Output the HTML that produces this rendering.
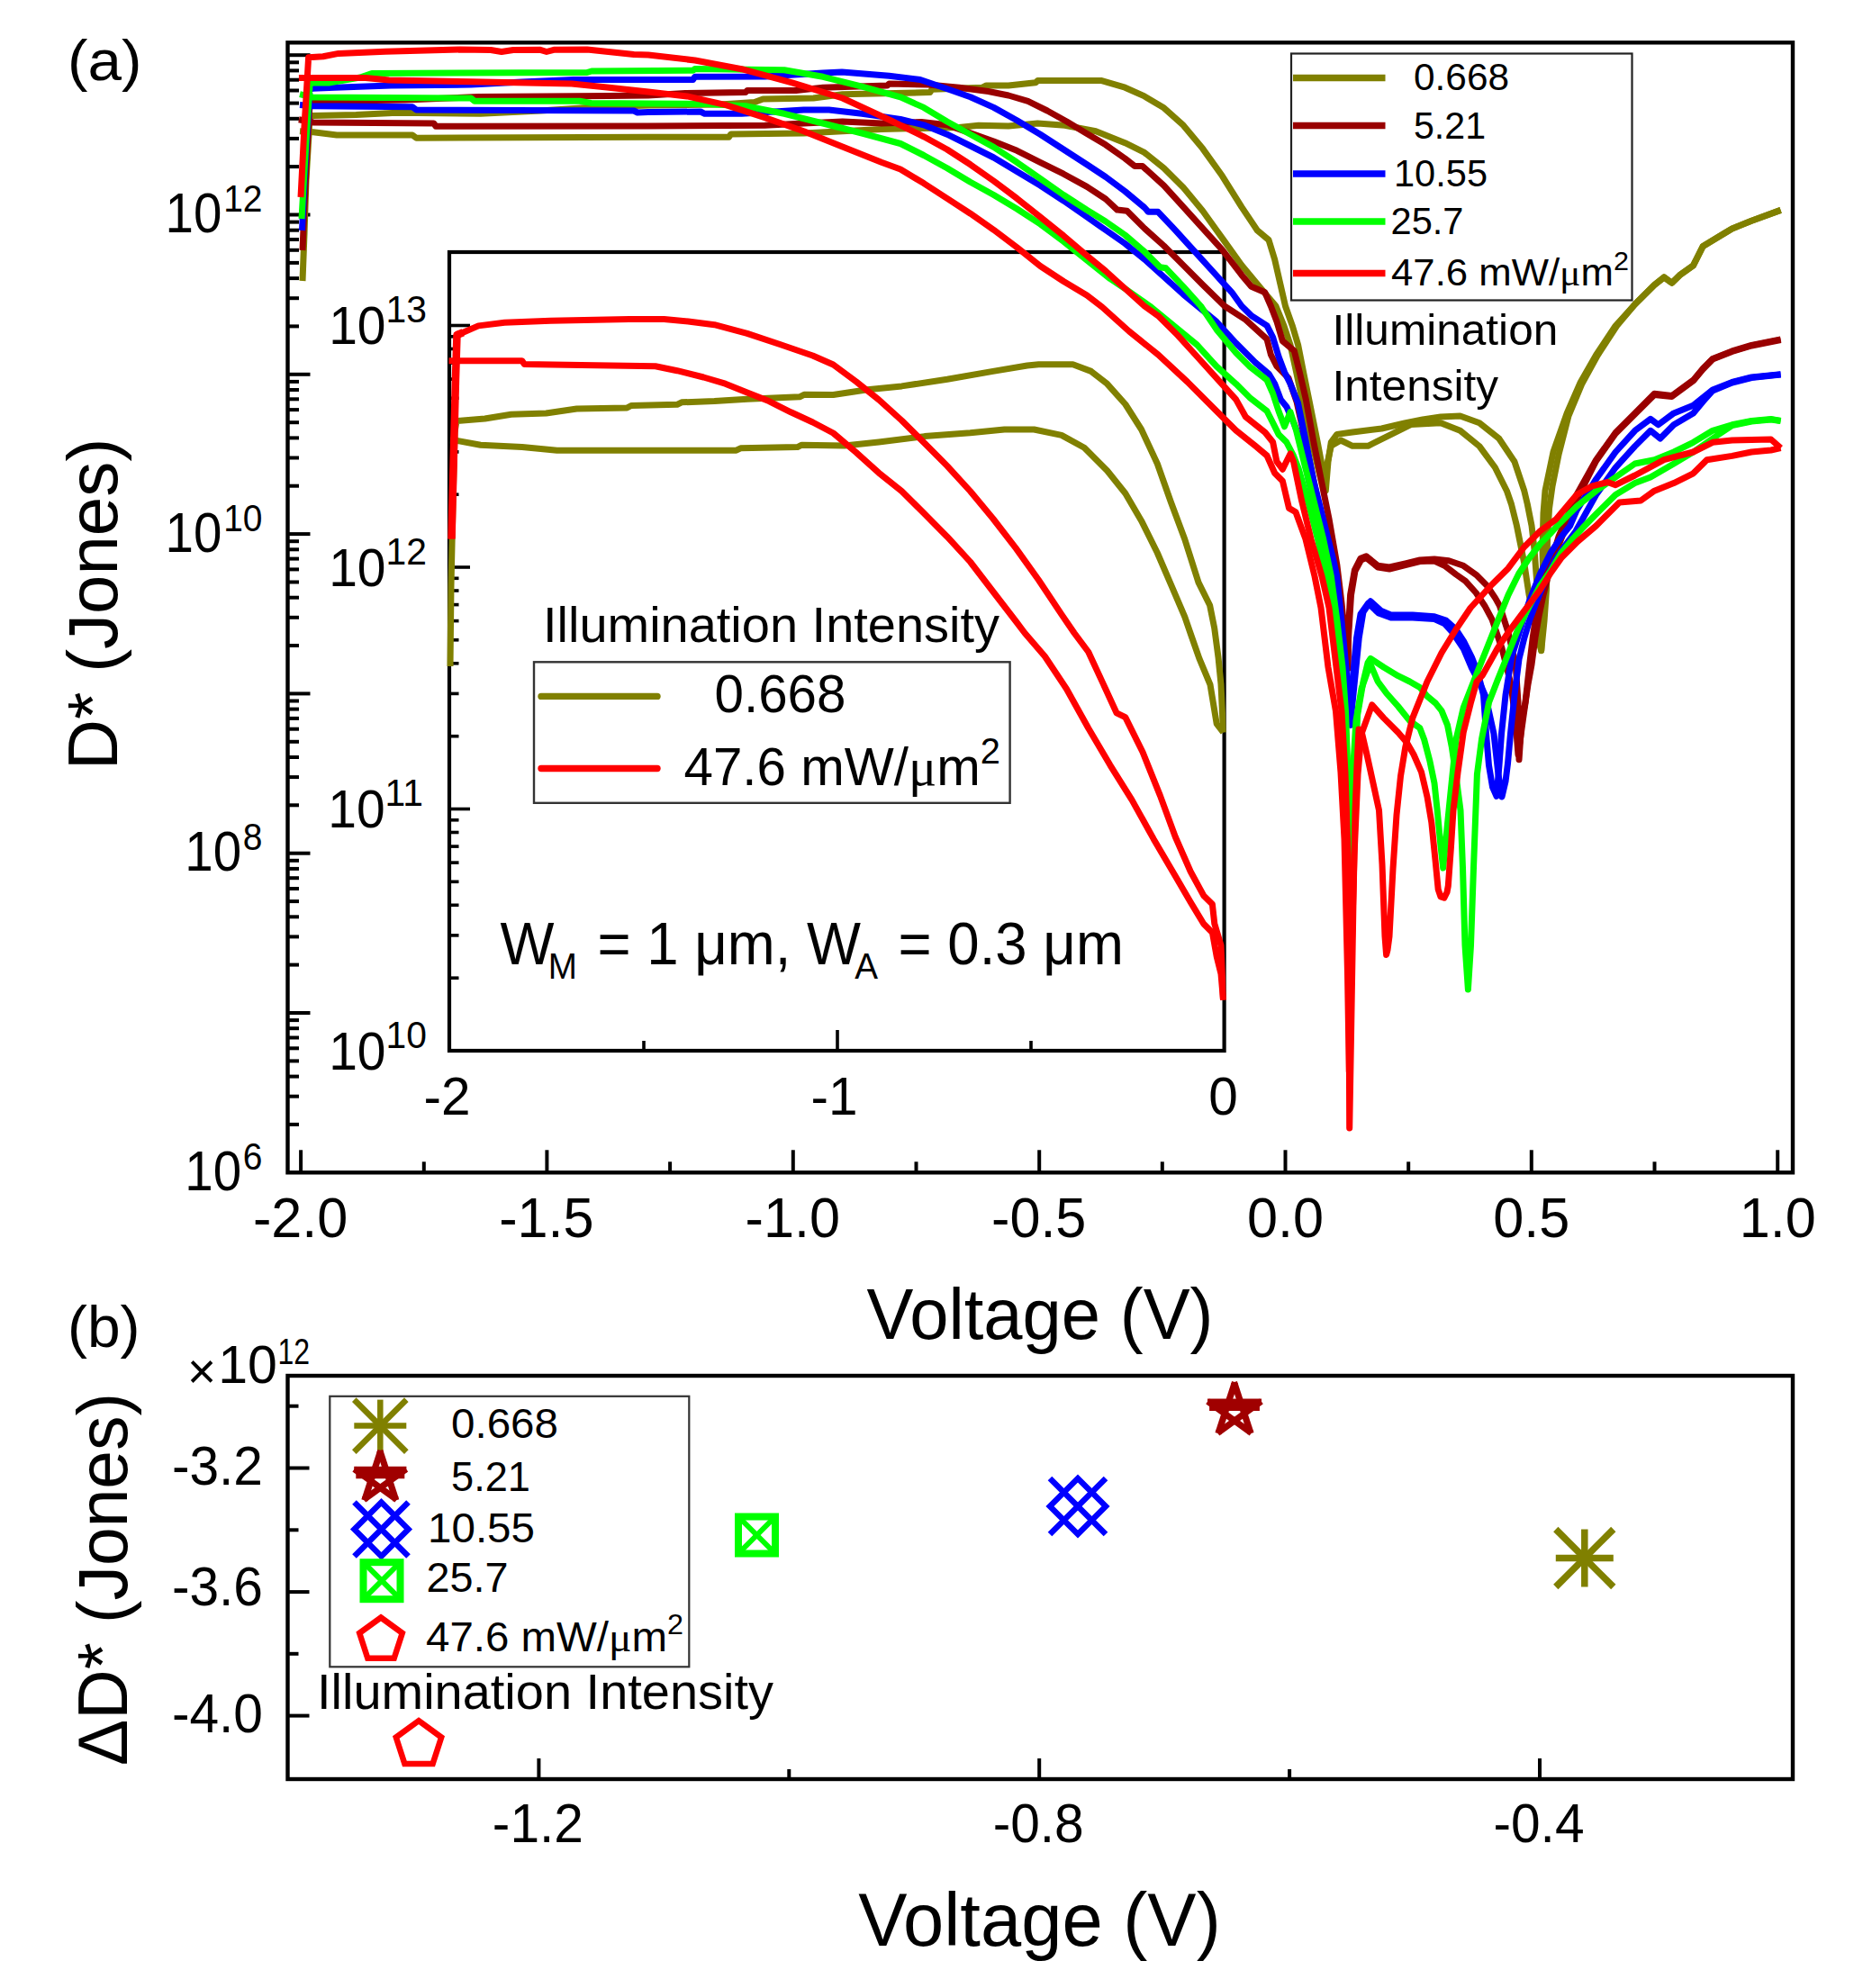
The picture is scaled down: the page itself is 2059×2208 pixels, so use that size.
<!DOCTYPE html>
<html><head><meta charset="utf-8"><title>Figure</title>
<style>html,body{margin:0;padding:0;background:#fff}svg{display:block}text{font-family:"Liberation Sans",sans-serif;fill:#000}</style>
</head><body>
<svg width="2059" height="2208" viewBox="0 0 2059 2208">
<rect width="2059" height="2208" fill="#fff"/>
<clipPath id="ci"><rect x="493" y="280" width="868.5999999999999" height="887"/></clipPath>
<rect x="499" y="280" width="860.5999999999999" height="887" fill="none" stroke="#000" stroke-width="4.2"/>
<line x1="499.0" y1="1086.2" x2="509.5" y2="1086.2" stroke="#000" stroke-width="3.6" />
<line x1="499.0" y1="1038.9" x2="509.5" y2="1038.9" stroke="#000" stroke-width="3.6" />
<line x1="499.0" y1="1005.3" x2="509.5" y2="1005.3" stroke="#000" stroke-width="3.6" />
<line x1="499.0" y1="979.3" x2="509.5" y2="979.3" stroke="#000" stroke-width="3.6" />
<line x1="499.0" y1="958.1" x2="509.5" y2="958.1" stroke="#000" stroke-width="3.6" />
<line x1="499.0" y1="940.1" x2="509.5" y2="940.1" stroke="#000" stroke-width="3.6" />
<line x1="499.0" y1="924.5" x2="509.5" y2="924.5" stroke="#000" stroke-width="3.6" />
<line x1="499.0" y1="910.8" x2="509.5" y2="910.8" stroke="#000" stroke-width="3.6" />
<line x1="499.0" y1="898.5" x2="522.0" y2="898.5" stroke="#000" stroke-width="3.6" />
<line x1="499.0" y1="817.7" x2="509.5" y2="817.7" stroke="#000" stroke-width="3.6" />
<line x1="499.0" y1="770.4" x2="509.5" y2="770.4" stroke="#000" stroke-width="3.6" />
<line x1="499.0" y1="736.8" x2="509.5" y2="736.8" stroke="#000" stroke-width="3.6" />
<line x1="499.0" y1="710.8" x2="509.5" y2="710.8" stroke="#000" stroke-width="3.6" />
<line x1="499.0" y1="689.6" x2="509.5" y2="689.6" stroke="#000" stroke-width="3.6" />
<line x1="499.0" y1="671.6" x2="509.5" y2="671.6" stroke="#000" stroke-width="3.6" />
<line x1="499.0" y1="656.0" x2="509.5" y2="656.0" stroke="#000" stroke-width="3.6" />
<line x1="499.0" y1="642.3" x2="509.5" y2="642.3" stroke="#000" stroke-width="3.6" />
<line x1="499.0" y1="630.0" x2="522.0" y2="630.0" stroke="#000" stroke-width="3.6" />
<line x1="499.0" y1="549.2" x2="509.5" y2="549.2" stroke="#000" stroke-width="3.6" />
<line x1="499.0" y1="501.9" x2="509.5" y2="501.9" stroke="#000" stroke-width="3.6" />
<line x1="499.0" y1="468.3" x2="509.5" y2="468.3" stroke="#000" stroke-width="3.6" />
<line x1="499.0" y1="442.3" x2="509.5" y2="442.3" stroke="#000" stroke-width="3.6" />
<line x1="499.0" y1="421.1" x2="509.5" y2="421.1" stroke="#000" stroke-width="3.6" />
<line x1="499.0" y1="403.1" x2="509.5" y2="403.1" stroke="#000" stroke-width="3.6" />
<line x1="499.0" y1="387.5" x2="509.5" y2="387.5" stroke="#000" stroke-width="3.6" />
<line x1="499.0" y1="373.8" x2="509.5" y2="373.8" stroke="#000" stroke-width="3.6" />
<line x1="499.0" y1="361.5" x2="522.0" y2="361.5" stroke="#000" stroke-width="3.6" />
<line x1="715.0" y1="1167.0" x2="715.0" y2="1156.0" stroke="#000" stroke-width="3.6" />
<line x1="930.0" y1="1167.0" x2="930.0" y2="1144.0" stroke="#000" stroke-width="3.6" />
<line x1="1145.0" y1="1167.0" x2="1145.0" y2="1156.0" stroke="#000" stroke-width="3.6" />
<g clip-path="url(#ci)">
<polyline points="500.0,740.0 501.0,650.0 503.0,560.0 505.0,480.0 507.0,467.5 538.5,465.0 567.7,460.2 606.5,459.0 640.5,454.0 696.3,453.0 701.0,450.5 752.0,449.3 757.0,446.8 793.4,445.6 829.8,443.2 888.0,440.8 893.0,438.3 925.4,438.5 963.4,432.7 1001.4,428.9 1052.0,421.3 1102.8,412.4 1140.8,406.0 1153.5,404.8 1191.5,404.8 1211.8,412.4 1229.6,426.3 1249.8,449.0 1267.6,477.0 1285.3,515.0 1300.5,558.0 1315.7,598.7 1331.0,646.9 1343.6,672.2 1348.7,697.6 1353.0,730.0 1356.0,760.0 1358.5,813.5" fill="none" stroke="#808000" stroke-width="7" stroke-linejoin="round" stroke-linecap="butt" />
<polyline points="500.0,489.0 507.0,489.3 533.7,494.2 579.8,496.6 618.6,500.2 817.7,500.2 822.5,497.8 885.6,496.6 890.5,494.2 938.0,495.0 976.0,491.0 1026.8,484.6 1077.5,480.8 1115.5,477.0 1148.4,477.0 1178.9,483.4 1204.2,497.3 1229.6,522.7 1249.8,548.0 1267.6,578.4 1285.3,614.0 1300.5,649.4 1315.7,684.9 1323.0,706.0 1331.9,731.4 1344.0,760.4 1351.2,803.9 1358.5,813.5" fill="none" stroke="#808000" stroke-width="7" stroke-linejoin="round" stroke-linecap="butt" />
<polyline points="501.5,598.5 504.0,500.0 506.0,420.0 507.5,372.0 514.3,369.2 531.3,361.9 560.4,358.3 611.4,356.3 698.7,354.6 737.6,354.6 764.3,357.0 793.4,360.7 829.8,370.4 866.2,382.5 902.6,395.0 925.4,405.0 950.7,423.8 976.0,444.0 1001.4,467.0 1026.8,492.2 1052.0,517.6 1077.5,545.5 1102.8,576.0 1128.2,608.9 1153.5,644.3 1178.9,682.4 1193.0,703.0 1208.7,724.0 1225.6,760.4 1240.0,791.8 1249.8,796.6 1269.0,835.3 1288.4,883.6 1305.3,929.5 1322.2,968.0 1336.7,994.7 1346.4,1004.3 1348.8,1026.0 1356.0,1050.0 1358.5,1110.6" fill="none" stroke="#ff0000" stroke-width="7" stroke-linejoin="round" stroke-linecap="butt" />
<polyline points="498.5,400.7 579.8,400.7 582.2,404.4 645.3,405.6 727.9,406.8 752.0,411.7 781.3,419.0 805.5,426.2 829.8,436.0 854.0,445.6 878.3,457.8 902.6,469.0 925.4,481.0 950.7,502.4 976.0,525.2 1001.4,545.5 1026.8,570.8 1052.0,596.2 1077.5,624.0 1102.8,657.0 1128.2,690.0 1138.0,703.0 1160.4,729.0 1184.5,765.2 1208.7,808.7 1232.9,849.8 1257.0,888.4 1281.2,931.9 1305.3,973.0 1322.2,1002.0 1336.7,1026.0 1346.4,1035.7 1351.2,1062.3 1356.0,1081.6 1358.5,1110.6" fill="none" stroke="#ff0000" stroke-width="7" stroke-linejoin="round" stroke-linecap="butt" />
<polyline points="501.5,598.5 504.0,500.0 506.0,420.0 507.5,372.0 514.3,369.2" fill="none" stroke="#ff0000" stroke-width="8.5" stroke-linejoin="round" stroke-linecap="butt" />
</g>
<text transform="translate(474.0,382.0) scale(0.95,1)" text-anchor="end" font-size="60">10<tspan font-size="43" dy="-24" dx="0">13</tspan></text>
<text transform="translate(474.0,650.5) scale(0.95,1)" text-anchor="end" font-size="60">10<tspan font-size="43" dy="-24" dx="0">12</tspan></text>
<text transform="translate(470.0,919.0) scale(0.95,1)" text-anchor="end" font-size="60">10<tspan font-size="43" dy="-24" dx="0">11</tspan></text>
<text transform="translate(474.0,1187.5) scale(0.95,1)" text-anchor="end" font-size="60">10<tspan font-size="43" dy="-24" dx="0">10</tspan></text>
<text transform="translate(496.5,1238.0) scale(1.0,1)" font-size="58.5" text-anchor="middle">-2</text>
<text transform="translate(926.5,1238.0) scale(1.0,1)" font-size="58.5" text-anchor="middle">-1</text>
<text transform="translate(1358.5,1238.0) scale(1.0,1)" font-size="58.5" text-anchor="middle">0</text>
<text transform="translate(555.5,1070.5) scale(0.966,1)" font-size="65.8">W<tspan font-size="40" dy="16" dx="-7">M</tspan><tspan dy="-16" dx="5"> = 1 μm, W</tspan><tspan font-size="40" dy="16" dx="-7">A</tspan><tspan dy="-16" dx="5"> = 0.3 μm</tspan></text>
<text x="603" y="713" font-size="55.6" textLength="507" lengthAdjust="spacingAndGlyphs">Illumination Intensity</text>
<rect x="593" y="735.3" width="528.6" height="156.5" fill="none" stroke="#333" stroke-width="2.4"/>
<line x1="601" y1="773.4" x2="730" y2="773.4" stroke="#808000" stroke-width="7.4" stroke-linecap="round"/>
<line x1="601" y1="853.5" x2="730" y2="853.5" stroke="#ff0000" stroke-width="7.4" stroke-linecap="round"/>
<text transform="translate(793.5,791.0) scale(0.972,1)" font-size="60" text-anchor="start">0.668</text>
<text transform="translate(759.5,872.4) scale(0.972,1)" font-size="60" text-anchor="start">47.6 mW/<tspan font-family="'Liberation Serif',serif">μ</tspan>m<tspan font-size="41" dy="-24">2</tspan></text>
<line x1="319.5" y1="1248.9" x2="332.0" y2="1248.9" stroke="#000" stroke-width="4.0" />
<line x1="319.5" y1="1217.7" x2="332.0" y2="1217.7" stroke="#000" stroke-width="4.0" />
<line x1="319.5" y1="1195.6" x2="332.0" y2="1195.6" stroke="#000" stroke-width="4.0" />
<line x1="319.5" y1="1178.4" x2="332.0" y2="1178.4" stroke="#000" stroke-width="4.0" />
<line x1="319.5" y1="1164.3" x2="332.0" y2="1164.3" stroke="#000" stroke-width="4.0" />
<line x1="319.5" y1="1152.5" x2="332.0" y2="1152.5" stroke="#000" stroke-width="4.0" />
<line x1="319.5" y1="1142.2" x2="332.0" y2="1142.2" stroke="#000" stroke-width="4.0" />
<line x1="319.5" y1="1133.1" x2="332.0" y2="1133.1" stroke="#000" stroke-width="4.0" />
<line x1="319.5" y1="1125.0" x2="344.5" y2="1125.0" stroke="#000" stroke-width="4.0" />
<line x1="319.5" y1="1071.6" x2="332.0" y2="1071.6" stroke="#000" stroke-width="4.0" />
<line x1="319.5" y1="1040.4" x2="332.0" y2="1040.4" stroke="#000" stroke-width="4.0" />
<line x1="319.5" y1="1018.3" x2="332.0" y2="1018.3" stroke="#000" stroke-width="4.0" />
<line x1="319.5" y1="1001.1" x2="332.0" y2="1001.1" stroke="#000" stroke-width="4.0" />
<line x1="319.5" y1="987.0" x2="332.0" y2="987.0" stroke="#000" stroke-width="4.0" />
<line x1="319.5" y1="975.2" x2="332.0" y2="975.2" stroke="#000" stroke-width="4.0" />
<line x1="319.5" y1="964.9" x2="332.0" y2="964.9" stroke="#000" stroke-width="4.0" />
<line x1="319.5" y1="955.8" x2="332.0" y2="955.8" stroke="#000" stroke-width="4.0" />
<line x1="319.5" y1="947.7" x2="344.5" y2="947.7" stroke="#000" stroke-width="4.0" />
<line x1="319.5" y1="894.3" x2="332.0" y2="894.3" stroke="#000" stroke-width="4.0" />
<line x1="319.5" y1="863.1" x2="332.0" y2="863.1" stroke="#000" stroke-width="4.0" />
<line x1="319.5" y1="841.0" x2="332.0" y2="841.0" stroke="#000" stroke-width="4.0" />
<line x1="319.5" y1="823.8" x2="332.0" y2="823.8" stroke="#000" stroke-width="4.0" />
<line x1="319.5" y1="809.7" x2="332.0" y2="809.7" stroke="#000" stroke-width="4.0" />
<line x1="319.5" y1="797.9" x2="332.0" y2="797.9" stroke="#000" stroke-width="4.0" />
<line x1="319.5" y1="787.6" x2="332.0" y2="787.6" stroke="#000" stroke-width="4.0" />
<line x1="319.5" y1="778.5" x2="332.0" y2="778.5" stroke="#000" stroke-width="4.0" />
<line x1="319.5" y1="770.4" x2="344.5" y2="770.4" stroke="#000" stroke-width="4.0" />
<line x1="319.5" y1="717.0" x2="332.0" y2="717.0" stroke="#000" stroke-width="4.0" />
<line x1="319.5" y1="685.8" x2="332.0" y2="685.8" stroke="#000" stroke-width="4.0" />
<line x1="319.5" y1="663.7" x2="332.0" y2="663.7" stroke="#000" stroke-width="4.0" />
<line x1="319.5" y1="646.5" x2="332.0" y2="646.5" stroke="#000" stroke-width="4.0" />
<line x1="319.5" y1="632.4" x2="332.0" y2="632.4" stroke="#000" stroke-width="4.0" />
<line x1="319.5" y1="620.6" x2="332.0" y2="620.6" stroke="#000" stroke-width="4.0" />
<line x1="319.5" y1="610.3" x2="332.0" y2="610.3" stroke="#000" stroke-width="4.0" />
<line x1="319.5" y1="601.2" x2="332.0" y2="601.2" stroke="#000" stroke-width="4.0" />
<line x1="319.5" y1="593.1" x2="344.5" y2="593.1" stroke="#000" stroke-width="4.0" />
<line x1="319.5" y1="539.7" x2="332.0" y2="539.7" stroke="#000" stroke-width="4.0" />
<line x1="319.5" y1="508.5" x2="332.0" y2="508.5" stroke="#000" stroke-width="4.0" />
<line x1="319.5" y1="486.4" x2="332.0" y2="486.4" stroke="#000" stroke-width="4.0" />
<line x1="319.5" y1="469.2" x2="332.0" y2="469.2" stroke="#000" stroke-width="4.0" />
<line x1="319.5" y1="455.1" x2="332.0" y2="455.1" stroke="#000" stroke-width="4.0" />
<line x1="319.5" y1="443.3" x2="332.0" y2="443.3" stroke="#000" stroke-width="4.0" />
<line x1="319.5" y1="433.0" x2="332.0" y2="433.0" stroke="#000" stroke-width="4.0" />
<line x1="319.5" y1="423.9" x2="332.0" y2="423.9" stroke="#000" stroke-width="4.0" />
<line x1="319.5" y1="415.8" x2="344.5" y2="415.8" stroke="#000" stroke-width="4.0" />
<line x1="319.5" y1="362.4" x2="332.0" y2="362.4" stroke="#000" stroke-width="4.0" />
<line x1="319.5" y1="331.2" x2="332.0" y2="331.2" stroke="#000" stroke-width="4.0" />
<line x1="319.5" y1="309.1" x2="332.0" y2="309.1" stroke="#000" stroke-width="4.0" />
<line x1="319.5" y1="291.9" x2="332.0" y2="291.9" stroke="#000" stroke-width="4.0" />
<line x1="319.5" y1="277.8" x2="332.0" y2="277.8" stroke="#000" stroke-width="4.0" />
<line x1="319.5" y1="266.0" x2="332.0" y2="266.0" stroke="#000" stroke-width="4.0" />
<line x1="319.5" y1="255.7" x2="332.0" y2="255.7" stroke="#000" stroke-width="4.0" />
<line x1="319.5" y1="246.6" x2="332.0" y2="246.6" stroke="#000" stroke-width="4.0" />
<line x1="319.5" y1="238.5" x2="344.5" y2="238.5" stroke="#000" stroke-width="4.0" />
<line x1="319.5" y1="185.1" x2="332.0" y2="185.1" stroke="#000" stroke-width="4.0" />
<line x1="319.5" y1="153.9" x2="332.0" y2="153.9" stroke="#000" stroke-width="4.0" />
<line x1="319.5" y1="131.8" x2="332.0" y2="131.8" stroke="#000" stroke-width="4.0" />
<line x1="319.5" y1="114.6" x2="332.0" y2="114.6" stroke="#000" stroke-width="4.0" />
<line x1="319.5" y1="100.5" x2="332.0" y2="100.5" stroke="#000" stroke-width="4.0" />
<line x1="319.5" y1="88.7" x2="332.0" y2="88.7" stroke="#000" stroke-width="4.0" />
<line x1="319.5" y1="78.4" x2="332.0" y2="78.4" stroke="#000" stroke-width="4.0" />
<line x1="319.5" y1="69.3" x2="332.0" y2="69.3" stroke="#000" stroke-width="4.0" />
<line x1="319.5" y1="61.2" x2="344.5" y2="61.2" stroke="#000" stroke-width="4.0" />
<line x1="334.1" y1="1302.3" x2="334.1" y2="1277.3" stroke="#000" stroke-width="4.0" />
<line x1="470.8" y1="1302.3" x2="470.8" y2="1290.3" stroke="#000" stroke-width="4.0" />
<line x1="607.4" y1="1302.3" x2="607.4" y2="1277.3" stroke="#000" stroke-width="4.0" />
<line x1="744.1" y1="1302.3" x2="744.1" y2="1290.3" stroke="#000" stroke-width="4.0" />
<line x1="880.8" y1="1302.3" x2="880.8" y2="1277.3" stroke="#000" stroke-width="4.0" />
<line x1="1017.5" y1="1302.3" x2="1017.5" y2="1290.3" stroke="#000" stroke-width="4.0" />
<line x1="1154.2" y1="1302.3" x2="1154.2" y2="1277.3" stroke="#000" stroke-width="4.0" />
<line x1="1290.8" y1="1302.3" x2="1290.8" y2="1290.3" stroke="#000" stroke-width="4.0" />
<line x1="1427.5" y1="1302.3" x2="1427.5" y2="1277.3" stroke="#000" stroke-width="4.0" />
<line x1="1564.2" y1="1302.3" x2="1564.2" y2="1290.3" stroke="#000" stroke-width="4.0" />
<line x1="1700.8" y1="1302.3" x2="1700.8" y2="1277.3" stroke="#000" stroke-width="4.0" />
<line x1="1837.5" y1="1302.3" x2="1837.5" y2="1290.3" stroke="#000" stroke-width="4.0" />
<line x1="1974.2" y1="1302.3" x2="1974.2" y2="1277.3" stroke="#000" stroke-width="4.0" />
<clipPath id="ca"><rect x="319.5" y="47.3" width="1671.5" height="1255.0"/></clipPath>
<g clip-path="url(#ca)">
<polyline points="336.0,312.0 338.0,260.0 340.0,200.0 343.0,150.0 344.0,129.0 348.0,128.5 395.5,127.4 440.8,125.2 533.6,126.3 600.0,123.0 660.0,119.0 720.0,117.0 800.0,116.0 838.0,113.5 847.3,110.0 903.4,109.0 935.7,104.7 1032.8,102.6 1035.0,99.3 1091.0,97.2 1095.4,95.0 1120.0,95.0 1150.0,91.8 1152.4,89.6 1223.6,89.6 1249.4,97.2 1271.0,106.9 1292.6,119.8 1314.2,139.2 1335.7,165.1 1357.3,195.3 1378.9,229.9 1396.2,255.7 1409.0,266.5 1415.6,288.0 1422.0,316.0 1427.5,340.0 1435.2,361.6 1441.6,383.0 1448.0,415.5 1454.6,447.9 1463.2,491.0 1469.7,525.5 1472.3,545.0 1475.0,512.6 1478.3,491.0 1484.8,482.4 1502.0,480.0 1534.4,476.0 1560.0,470.0 1580.0,466.0 1600.0,463.0 1621.6,462.0 1643.0,469.7 1664.7,487.0 1682.0,512.8 1692.8,545.2 1696.3,560.0 1701.0,583.7 1704.0,610.0 1707.0,650.0 1709.0,690.0 1711.7,722.6 1715.0,690.0 1717.5,655.0 1718.0,631.0 1718.5,600.0 1720.5,565.0 1724.0,540.0 1731.0,505.0 1742.0,462.0 1757.0,426.0 1774.0,395.0 1795.5,362.0 1815.7,338.0 1837.3,316.5 1848.0,307.9 1856.7,314.3 1865.4,305.7 1880.5,294.9 1891.3,273.4 1902.0,266.9 1923.6,253.9 1945.2,245.3 1977.6,233.4" fill="none" stroke="#808000" stroke-width="7" stroke-linejoin="round" stroke-linecap="butt" />
<polyline points="333.0,145.7 348.0,146.8 374.0,150.0 458.0,150.0 462.4,153.3 720.0,152.2 809.5,152.2 811.7,149.0 892.6,147.9 935.7,145.7 978.9,143.6 1065.2,141.4 1086.8,139.2 1120.0,140.0 1152.4,137.0 1182.6,139.2 1217.0,145.7 1249.4,158.7 1271.0,169.4 1292.6,186.7 1314.2,208.3 1335.7,234.2 1357.3,264.4 1378.9,294.6 1400.5,320.5 1417.0,340.0 1426.0,362.0 1433.0,383.0 1440.0,415.0 1447.0,448.0 1457.0,491.0 1465.0,525.0 1470.5,545.0 1474.0,515.0 1478.3,495.3 1489.0,489.0 1502.0,495.3 1519.3,495.3 1545.2,482.4 1566.8,471.6 1600.0,469.7 1621.6,478.3 1643.0,495.6 1660.4,519.3 1673.4,545.2 1678.5,560.0 1684.4,583.7 1689.2,607.5 1692.7,625.3 1698.0,660.0 1704.0,690.0 1708.0,710.0 1711.7,722.6 1713.0,690.0 1714.0,650.0 1713.0,610.0 1714.0,570.0 1716.0,545.0 1725.0,502.0 1740.2,458.9 1755.3,424.4 1772.6,394.2 1794.2,361.8 1815.7,338.0 1837.3,316.5 1848.0,307.9 1856.7,314.3 1865.4,305.7 1880.5,294.9 1891.3,273.4 1902.0,266.9 1923.6,253.9 1945.2,245.3 1977.6,233.4" fill="none" stroke="#808000" stroke-width="7" stroke-linejoin="round" stroke-linecap="butt" />
<polyline points="336.0,278.0 338.0,230.0 341.0,170.0 344.0,115.0 348.0,113.0 367.5,112.3 450.0,111.0 531.4,107.5 676.0,106.5 720.0,106.0 761.0,103.6 827.9,102.6 830.0,100.4 884.0,100.4 914.0,97.2 985.4,95.0 987.5,92.9 1030.7,94.0 1065.2,97.2 1097.6,101.5 1120.0,106.0 1141.6,112.3 1163.1,123.0 1184.7,135.0 1206.3,147.9 1227.9,160.8 1249.4,176.0 1260.2,184.6 1268.9,184.6 1292.6,206.1 1314.2,229.9 1335.7,253.6 1357.3,277.3 1378.9,305.4 1389.7,318.3 1404.8,324.8 1411.4,340.0 1418.0,357.3 1424.4,378.8 1437.3,389.6 1443.8,415.5 1450.3,443.6 1458.9,491.0 1467.5,534.2 1476.2,577.3 1484.8,627.0 1490.0,670.0 1494.0,710.0 1497.2,742.6 1497.5,700.0 1499.6,660.5 1504.4,633.0 1510.9,620.3 1517.3,617.8 1530.2,628.3 1543.0,630.0 1560.8,625.9 1576.9,621.9 1593.0,621.0 1609.0,622.7 1625.2,628.3 1639.3,638.3 1651.2,650.2 1660.7,664.4 1665.4,672.7 1675.0,702.4 1683.2,738.0 1686.0,780.0 1687.0,843.8 1690.0,800.0 1694.0,780.0 1698.7,738.0 1702.2,708.3 1705.8,684.6 1710.5,660.9 1716.5,637.0 1722.4,619.3 1728.3,605.0 1731.0,596.0 1751.0,549.5 1772.6,510.7 1794.2,480.5 1815.7,458.9 1837.3,437.3 1856.7,439.5 1880.5,422.2 1891.3,409.3 1902.0,398.5 1923.6,389.9 1945.2,383.4 1977.6,376.9" fill="none" stroke="#990000" stroke-width="7" stroke-linejoin="round" stroke-linecap="butt" />
<polyline points="331.9,132.8 348.0,136.0 481.8,137.0 484.0,140.3 720.0,140.0 849.4,139.2 892.6,137.0 935.7,135.0 978.9,137.0 1023.3,135.5 1051.8,138.8 1077.7,147.9 1103.6,157.0 1129.4,167.3 1155.3,180.3 1181.2,193.2 1207.1,207.4 1227.9,221.0 1240.8,233.1 1251.6,234.2 1271.0,253.6 1292.6,273.0 1314.2,294.6 1335.7,316.2 1360.0,340.0 1383.4,355.1 1407.0,376.7 1411.4,394.0 1418.0,406.9 1431.0,420.0 1440.0,446.0 1450.0,491.0 1459.0,534.0 1468.0,577.0 1477.0,627.0 1485.0,680.0 1492.0,720.0 1496.0,740.0 1498.0,700.0 1500.5,661.0 1505.0,634.0 1511.5,622.0 1517.3,619.5 1530.2,630.0 1543.0,632.0 1560.8,627.5 1576.9,623.5 1593.0,623.0 1604.3,628.3 1617.0,638.0 1627.5,645.4 1639.3,658.5 1648.8,672.7 1657.1,688.2 1668.0,720.0 1678.0,760.0 1683.0,800.0 1686.0,838.0 1692.0,795.0 1697.0,760.0 1701.0,738.0 1705.0,708.0 1709.0,684.6 1714.0,660.9 1720.0,637.0 1726.0,619.3 1732.0,603.0 1753.0,551.0 1772.6,512.0 1794.2,481.5 1815.7,460.0 1837.3,438.5 1856.7,440.5 1880.5,423.0 1891.3,410.0 1902.0,399.0 1923.6,390.5 1945.2,384.0 1977.6,377.5" fill="none" stroke="#990000" stroke-width="7" stroke-linejoin="round" stroke-linecap="butt" />
<polyline points="335.5,256.0 338.0,200.0 341.0,150.0 344.0,100.0 347.0,98.3 371.8,97.2 434.0,95.0 523.0,94.0 580.0,91.0 637.0,88.5 720.0,88.5 769.6,88.5 771.8,85.3 850.0,85.0 914.0,81.0 935.0,80.0 987.5,84.2 1022.0,88.5 1055.7,100.0 1077.7,107.8 1103.6,119.4 1129.4,133.7 1155.3,149.2 1181.2,166.0 1207.1,182.8 1227.9,196.5 1249.4,212.5 1271.0,230.5 1275.3,235.3 1286.1,235.3 1303.4,253.6 1325.0,277.3 1346.5,301.0 1368.1,324.8 1379.0,340.0 1389.9,350.8 1407.0,361.6 1413.6,374.5 1420.0,396.0 1426.5,413.3 1433.0,426.3 1441.6,447.9 1450.3,491.0 1458.9,534.2 1469.7,577.3 1480.5,620.5 1484.8,640.0 1490.0,690.0 1495.0,741.0 1498.0,780.0 1499.6,805.4 1504.4,757.0 1509.2,708.8 1514.0,679.8 1522.1,667.8 1533.4,678.2 1544.7,683.0 1568.8,683.0 1593.0,684.7 1605.9,689.0 1616.5,698.5 1626.0,713.0 1634.5,730.0 1641.5,748.0 1647.5,772.0 1650.5,815.0 1653.5,850.0 1657.5,874.0 1662.0,884.4 1665.0,850.0 1667.5,815.0 1672.0,772.0 1679.0,729.0 1686.8,704.0 1692.7,684.6 1698.7,666.8 1710.5,637.0 1722.4,613.4 1734.3,595.6 1743.8,583.7 1751.0,566.8 1772.6,532.2 1794.2,502.0 1815.7,478.3 1833.0,465.4 1841.6,471.8 1858.9,458.9 1880.5,450.3 1902.0,433.0 1923.6,424.4 1945.2,419.0 1977.6,415.7" fill="none" stroke="#0000ff" stroke-width="7" stroke-linejoin="round" stroke-linecap="butt" />
<polyline points="333.0,116.6 347.0,117.7 458.0,118.7 462.4,122.0 704.0,123.0 708.0,125.0 720.0,124.5 778.0,124.0 782.6,126.3 823.6,126.3 860.0,124.0 892.6,122.0 920.6,122.0 957.3,126.3 1000.0,132.4 1025.9,138.8 1051.8,149.2 1077.7,162.0 1103.6,175.0 1129.4,190.6 1155.3,206.0 1181.2,223.0 1207.1,241.0 1227.9,255.5 1249.4,270.5 1271.0,288.0 1292.6,307.5 1314.2,327.0 1330.0,340.0 1351.0,357.3 1372.6,381.0 1394.2,402.6 1409.3,415.5 1415.7,426.3 1422.2,443.6 1429.0,452.0 1437.0,470.0 1445.0,491.0 1453.5,534.2 1464.0,577.3 1475.0,620.5 1480.0,640.0 1486.5,690.0 1492.0,741.0 1496.0,780.0 1497.5,798.0 1502.0,757.0 1506.5,708.8 1511.0,682.0 1519.5,670.0 1531.0,681.0 1544.7,686.0 1568.8,686.0 1593.0,687.5 1604.0,692.5 1613.6,703.0 1625.5,720.8 1634.0,741.0 1644.0,760.0 1650.0,774.0 1659.0,815.0 1664.0,860.0 1668.0,885.0 1672.0,868.0 1674.5,848.0 1677.5,815.0 1682.0,772.0 1687.0,732.0 1693.0,708.0 1699.0,688.0 1705.0,672.0 1716.0,645.0 1727.0,622.0 1738.0,606.0 1750.0,590.0 1772.6,549.5 1794.2,519.3 1815.7,495.6 1833.0,478.3 1843.8,487.0 1858.9,471.8 1880.5,458.9 1891.3,446.0 1902.0,434.0 1923.6,425.0 1945.2,419.5 1977.6,416.0" fill="none" stroke="#0000ff" stroke-width="7" stroke-linejoin="round" stroke-linecap="butt" />
<polyline points="335.0,243.0 338.0,190.0 341.0,140.0 344.0,95.0 346.0,92.0 365.0,92.0 400.0,86.0 413.0,81.5 510.0,81.0 652.0,80.5 657.0,79.0 769.6,78.3 771.8,76.5 871.0,77.8 914.0,85.3 957.3,96.1 1000.0,107.8 1025.9,119.4 1051.8,135.0 1077.7,149.2 1103.6,163.4 1129.4,180.3 1155.3,198.4 1181.2,216.5 1207.1,233.3 1227.9,246.0 1249.4,261.0 1271.0,279.5 1288.3,296.7 1294.8,297.8 1314.2,318.3 1333.6,340.0 1351.0,365.9 1372.6,391.8 1387.7,406.9 1407.0,422.0 1413.6,437.0 1420.0,456.5 1426.5,473.8 1433.0,457.6 1439.5,478.0 1448.0,512.6 1458.9,555.7 1469.7,598.9 1478.3,640.0 1485.0,690.0 1491.0,741.0 1494.5,790.0 1497.0,858.0 1498.5,932.0 1499.8,1012.8 1503.0,900.0 1507.6,794.2 1514.0,757.0 1519.0,736.2 1522.1,731.4 1536.6,741.0 1552.7,750.7 1565.6,757.0 1576.9,763.6 1585.0,773.2 1594.6,781.3 1601.0,789.4 1607.5,805.4 1612.3,829.6 1617.0,861.8 1622.0,900.0 1624.5,964.0 1627.0,1050.0 1630.4,1099.0 1633.5,1050.0 1636.5,964.0 1640.4,860.0 1645.6,820.5 1653.6,780.0 1663.0,755.8 1675.0,726.0 1686.8,696.5 1698.7,672.7 1710.5,650.2 1722.4,633.6 1734.3,613.4 1746.1,599.2 1758.0,586.0 1772.6,571.0 1794.2,549.5 1815.7,536.6 1833.0,530.0 1858.9,515.0 1880.5,502.0 1902.0,487.0 1923.6,472.5 1945.2,468.0 1966.8,466.0 1977.6,467.5" fill="none" stroke="#00ff00" stroke-width="7" stroke-linejoin="round" stroke-linecap="butt" />
<polyline points="333.0,104.7 347.0,108.0 523.0,109.0 527.0,112.3 643.6,112.3 656.6,114.4 720.0,115.0 784.7,115.5 827.9,117.7 871.0,126.3 914.0,137.0 957.3,148.0 1000.0,159.5 1025.9,172.5 1051.8,186.7 1077.7,202.3 1103.6,216.5 1129.4,232.0 1155.3,248.9 1181.2,268.3 1207.1,289.0 1233.0,309.7 1249.4,320.5 1277.0,340.0 1329.4,383.0 1351.0,406.9 1372.6,426.3 1387.7,441.4 1407.0,456.5 1413.6,469.5 1420.0,482.4 1428.7,491.0 1436.0,505.0 1442.0,520.0 1452.9,558.0 1463.7,600.0 1472.3,640.0 1480.0,690.0 1488.0,741.0 1492.0,790.0 1495.0,858.0 1497.0,960.0 1501.0,880.0 1506.0,800.0 1512.0,765.0 1519.0,745.0 1522.1,738.0 1530.2,757.0 1539.8,770.0 1552.7,784.5 1565.6,800.6 1576.9,808.7 1581.7,821.5 1588.0,845.7 1593.0,869.9 1596.2,900.0 1600.0,940.0 1602.7,964.0 1606.0,930.0 1610.0,890.0 1617.0,821.5 1625.2,786.0 1639.3,749.9 1651.2,720.2 1663.0,690.5 1675.0,660.9 1686.8,637.0 1698.7,619.3 1710.5,604.0 1722.4,592.0 1729.4,584.0 1751.0,562.5 1772.6,545.2 1794.2,530.0 1815.7,515.0 1837.3,510.7 1858.9,502.0 1880.5,491.3 1902.0,478.3 1923.6,471.8 1945.2,467.5 1966.8,465.4 1977.6,467.5" fill="none" stroke="#00ff00" stroke-width="7" stroke-linejoin="round" stroke-linecap="butt" />
<polyline points="334.0,219.0 336.0,180.0 338.0,140.0 340.5,100.0 342.6,63.7 358.8,62.7 376.0,59.4 427.9,57.3 509.9,55.1 545.0,55.5 557.0,57.5 570.0,55.5 600.0,55.3 607.0,57.5 615.0,55.3 652.0,55.1 704.0,60.5 720.0,61.0 771.8,67.0 823.6,76.7 879.7,91.8 935.7,109.0 987.5,133.0 1025.9,151.8 1051.8,166.0 1077.7,182.8 1103.6,201.0 1129.4,220.4 1155.3,241.1 1181.2,261.8 1207.1,283.8 1227.9,301.0 1249.4,320.5 1271.0,340.0 1286.3,350.8 1307.9,372.4 1329.4,396.0 1351.0,419.8 1372.6,443.6 1383.4,463.0 1405.0,480.2 1413.6,491.0 1417.9,512.6 1424.4,521.2 1433.0,504.0 1436.5,512.6 1445.5,555.7 1456.0,598.9 1468.0,640.0 1476.0,675.0 1484.0,741.0 1490.0,790.0 1494.0,858.0 1496.5,932.0 1498.0,1081.0 1498.7,1253.0 1500.5,1150.0 1503.0,1000.0 1505.0,900.0 1507.0,850.0 1509.0,810.0 1512.0,812.0 1518.0,838.0 1525.0,870.0 1531.5,900.0 1535.0,960.0 1538.0,1040.0 1539.6,1060.4 1541.0,1055.0 1543.0,1040.0 1547.0,965.0 1551.0,905.0 1555.5,862.0 1560.8,829.6 1568.8,797.4 1585.0,757.0 1601.0,725.0 1617.0,699.0 1633.2,675.0 1657.1,649.0 1675.0,631.2 1692.7,607.5 1710.5,589.7 1728.3,576.6 1751.0,549.5 1768.3,539.8 1785.5,535.5 1794.2,538.7 1815.7,528.0 1848.0,510.7 1880.5,502.0 1902.0,491.3 1923.6,489.0 1966.8,488.0 1977.6,497.7" fill="none" stroke="#ff0000" stroke-width="7" stroke-linejoin="round" stroke-linecap="butt" />
<polyline points="331.9,86.4 406.0,86.4 432.0,89.0 523.0,90.7 635.0,92.9 674.0,97.0 720.0,102.0 763.0,106.9 806.3,116.6 849.4,130.6 892.6,145.7 935.7,163.0 978.9,180.2 1000.0,188.0 1025.9,203.6 1051.8,220.4 1077.7,237.2 1103.6,255.3 1129.4,274.8 1155.3,295.5 1181.2,312.5 1207.1,328.0 1224.0,341.0 1254.0,368.0 1286.3,394.0 1318.7,424.1 1351.0,456.5 1372.6,478.0 1394.2,495.3 1407.0,506.0 1415.7,525.5 1424.4,534.2 1431.5,564.4 1439.0,568.7 1450.0,598.9 1460.0,640.0 1467.0,675.0 1475.0,741.0 1483.5,790.0 1489.0,858.0 1493.0,932.0 1496.5,1081.0 1498.3,1190.0 1500.0,1100.0 1504.0,950.0 1508.0,860.0 1512.0,815.0 1523.7,782.9 1536.6,797.4 1552.7,813.5 1562.4,824.8 1570.0,838.0 1578.6,857.7 1585.0,885.0 1589.8,913.5 1594.0,955.0 1597.2,987.9 1600.0,996.0 1603.8,997.3 1607.0,991.0 1608.3,984.0 1611.5,940.0 1614.0,900.0 1619.0,858.0 1625.2,813.5 1633.2,781.3 1640.0,757.0 1646.5,749.9 1663.0,720.2 1675.0,702.4 1692.7,678.7 1710.5,655.0 1722.4,636.0 1734.3,619.3 1752.0,601.5 1772.6,584.0 1798.5,558.0 1822.2,556.0 1837.3,545.2 1858.9,536.6 1880.5,525.8 1895.6,510.7 1923.6,506.4 1945.2,502.0 1966.8,500.0 1977.6,497.7" fill="none" stroke="#ff0000" stroke-width="7" stroke-linejoin="round" stroke-linecap="butt" />
</g>
<rect x="319.5" y="47.3" width="1671.5" height="1255.0" fill="none" stroke="#000" stroke-width="4.4"/>
<text transform="translate(291.5,258.0) scale(0.905,1)" text-anchor="end" font-size="62.4">10<tspan font-size="43" dy="-23" dx="2">12</tspan></text>
<text transform="translate(291.5,612.6) scale(0.905,1)" text-anchor="end" font-size="62.4">10<tspan font-size="43" dy="-23" dx="2">10</tspan></text>
<text transform="translate(291.5,967.2) scale(0.905,1)" text-anchor="end" font-size="62.4">10<tspan font-size="43" dy="-23" dx="2">8</tspan></text>
<text transform="translate(291.5,1321.8) scale(0.905,1)" text-anchor="end" font-size="62.4">10<tspan font-size="43" dy="-23" dx="2">6</tspan></text>
<text transform="translate(333.6,1373.8) scale(0.98,1)" font-size="62.4" text-anchor="middle">-2.0</text>
<text transform="translate(606.9,1373.8) scale(0.98,1)" font-size="62.4" text-anchor="middle">-1.5</text>
<text transform="translate(880.3,1373.8) scale(0.98,1)" font-size="62.4" text-anchor="middle">-1.0</text>
<text transform="translate(1153.7,1373.8) scale(0.98,1)" font-size="62.4" text-anchor="middle">-0.5</text>
<text transform="translate(1427.5,1373.8) scale(0.98,1)" font-size="62.4" text-anchor="middle">0.0</text>
<text transform="translate(1700.8,1373.8) scale(0.98,1)" font-size="62.4" text-anchor="middle">0.5</text>
<text transform="translate(1974.2,1373.8) scale(0.98,1)" font-size="62.4" text-anchor="middle">1.0</text>
<text transform="translate(1155.0,1486.5) scale(0.985,1)" font-size="79" text-anchor="middle">Voltage (V)</text>
<text transform="translate(130.0,671.0) rotate(-90) scale(1.0,1)" font-size="78" text-anchor="middle">D* (Jones)</text>
<text transform="translate(75.0,88.5) scale(1.07,1)" font-size="63" text-anchor="start">(a)</text>
<rect x="1434" y="59.5" width="378.5" height="274" fill="none" stroke="#222" stroke-width="2.2"/>
<line x1="1436.0" y1="86.6" x2="1538.5" y2="86.6" stroke="#808000" stroke-width="7.5" />
<line x1="1436.0" y1="139.6" x2="1538.5" y2="139.6" stroke="#990000" stroke-width="7.5" />
<line x1="1436.0" y1="193.0" x2="1538.5" y2="193.0" stroke="#0000ff" stroke-width="7.5" />
<line x1="1436.0" y1="246.0" x2="1538.5" y2="246.0" stroke="#00ff00" stroke-width="7.5" />
<line x1="1436.0" y1="303.4" x2="1538.5" y2="303.4" stroke="#ff0000" stroke-width="7.5" />
<text x="1570" y="100.2" font-size="43" textLength="106" lengthAdjust="spacingAndGlyphs">0.668</text>
<text x="1570" y="153.6" font-size="43" textLength="80" lengthAdjust="spacingAndGlyphs">5.21</text>
<text x="1548" y="207" font-size="43" textLength="104" lengthAdjust="spacingAndGlyphs">10.55</text>
<text x="1544.5" y="259.7" font-size="43" textLength="81" lengthAdjust="spacingAndGlyphs">25.7</text>
<text x="1545" y="316.7" font-size="43" textLength="264" lengthAdjust="spacingAndGlyphs">47.6 mW/<tspan font-family="'Liberation Serif',serif">μ</tspan>m<tspan font-size="30" dy="-17">2</tspan></text>
<text transform="translate(1479.5,382.5) scale(1.044,1)" font-size="47.5" text-anchor="start">Illumination</text>
<text transform="translate(1479.5,444.5) scale(1.044,1)" font-size="47.5" text-anchor="start">Intensity</text>
<rect x="319.5" y="1528" width="1671.5" height="448" fill="none" stroke="#000" stroke-width="4.4"/>
<line x1="319.5" y1="1561.7" x2="331.5" y2="1561.7" stroke="#000" stroke-width="4.0" />
<line x1="319.5" y1="1630.5" x2="343.5" y2="1630.5" stroke="#000" stroke-width="4.0" />
<line x1="319.5" y1="1699.3" x2="331.5" y2="1699.3" stroke="#000" stroke-width="4.0" />
<line x1="319.5" y1="1768.1" x2="343.5" y2="1768.1" stroke="#000" stroke-width="4.0" />
<line x1="319.5" y1="1836.8" x2="331.5" y2="1836.8" stroke="#000" stroke-width="4.0" />
<line x1="319.5" y1="1905.6" x2="343.5" y2="1905.6" stroke="#000" stroke-width="4.0" />
<line x1="598.4" y1="1976.0" x2="598.4" y2="1953.0" stroke="#000" stroke-width="4.0" />
<line x1="876.3" y1="1976.0" x2="876.3" y2="1965.0" stroke="#000" stroke-width="4.0" />
<line x1="1154.2" y1="1976.0" x2="1154.2" y2="1953.0" stroke="#000" stroke-width="4.0" />
<line x1="1432.1" y1="1976.0" x2="1432.1" y2="1965.0" stroke="#000" stroke-width="4.0" />
<line x1="1710.0" y1="1976.0" x2="1710.0" y2="1953.0" stroke="#000" stroke-width="4.0" />
<text transform="translate(292.0,1649.0) scale(0.97,1)" font-size="60.5" text-anchor="end">-3.2</text>
<text transform="translate(292.0,1782.6) scale(0.97,1)" font-size="60.5" text-anchor="end">-3.6</text>
<text transform="translate(292.0,1924.1) scale(0.97,1)" font-size="60.5" text-anchor="end">-4.0</text>
<text transform="translate(597.4,2045.5) scale(0.97,1)" font-size="60.5" text-anchor="middle">-1.2</text>
<text transform="translate(1153.2,2045.5) scale(0.97,1)" font-size="60.5" text-anchor="middle">-0.8</text>
<text transform="translate(1709.0,2045.5) scale(0.97,1)" font-size="60.5" text-anchor="middle">-0.4</text>
<text transform="translate(1154.5,2161.0) scale(0.985,1)" font-size="82.6" text-anchor="middle">Voltage (V)</text>
<text transform="translate(140.5,1754.0) rotate(-90) scale(0.985,1)" font-size="78" text-anchor="middle">ΔD* (Jones)</text>
<text transform="translate(75.0,1496.0) scale(1.03,1)" font-size="64" text-anchor="start">(b)</text>
<text x="208" y="1536" font-size="59"><tspan dy="6" font-size="55">×</tspan><tspan dy="-6" dx="2">10</tspan></text>
<text transform="translate(308.5,1515) scale(0.8,1)" font-size="40">12</text>
<polygon points="465.0,1911.2 490.2,1929.5 480.6,1959.1 449.4,1959.1 439.8,1929.5" fill="none" stroke="#ff0000" stroke-width="6.5" stroke-linejoin="miter"/>
<g stroke="#00ff00" stroke-width="8" fill="none"><rect x="820.0" y="1684.5" width="41.0" height="41.0"/><line x1="820.0" y1="1684.5" x2="861.0" y2="1725.5" stroke-width="6"/><line x1="820.0" y1="1725.5" x2="861.0" y2="1684.5" stroke-width="6"/></g>
<g stroke="#0000ff" stroke-width="6.5" fill="none" stroke-linejoin="miter"><line x1="1166" y1="1642" x2="1228" y2="1704"/><line x1="1166" y1="1704" x2="1228" y2="1642"/><polygon points="1197,1642 1228,1673 1197,1704 1166,1673"/></g>
<g stroke="#a00000" stroke-width="7.2" stroke-linecap="butt">
<line x1="1370.5" y1="1535.1" x2="1389.1" y2="1592.2"/>
<line x1="1400.7" y1="1556.3" x2="1352.2" y2="1591.7"/>
<line x1="1389.8" y1="1591.7" x2="1341.3" y2="1556.3"/>
<line x1="1352.9" y1="1592.2" x2="1371.5" y2="1535.1"/>
<line x1="1341.0" y1="1557.2" x2="1401.0" y2="1557.2"/>
<line x1="1343.1" y1="1563.4" x2="1398.9" y2="1563.4"/>
</g>
<g stroke="#808000" stroke-width="7.5" ><line x1="1727.8" y1="1730.5" x2="1791.8" y2="1730.5"/><line x1="1759.8" y1="1698.5" x2="1759.8" y2="1762.5"/><line x1="1727.8" y1="1698.5" x2="1791.8" y2="1762.5"/><line x1="1727.8" y1="1762.5" x2="1791.8" y2="1698.5"/></g>
<clipPath id="cl"><rect x="366" y="1551" width="399" height="300"/></clipPath>
<g stroke="#808000" stroke-width="6.5" clip-path="url(#cl)"><line x1="393.3" y1="1583.6" x2="451.3" y2="1583.6"/><line x1="422.3" y1="1554.6" x2="422.3" y2="1612.6"/><line x1="393.3" y1="1554.6" x2="451.3" y2="1612.6"/><line x1="393.3" y1="1612.6" x2="451.3" y2="1554.6"/></g>
<g stroke="#a00000" stroke-width="7.2" stroke-linecap="butt">
<line x1="421.8" y1="1611.0" x2="439.8" y2="1666.3"/>
<line x1="451.1" y1="1631.6" x2="404.0" y2="1665.7"/>
<line x1="440.6" y1="1665.7" x2="393.5" y2="1631.6"/>
<line x1="404.8" y1="1666.3" x2="422.8" y2="1611.0"/>
<line x1="393.2" y1="1632.4" x2="451.4" y2="1632.4"/>
<line x1="395.3" y1="1638.6" x2="449.3" y2="1638.6"/>
</g>
<g stroke="#0000ff" stroke-width="6.5" fill="none" stroke-linejoin="miter"><line x1="393.5" y1="1668.5" x2="453.5" y2="1728.5"/><line x1="393.5" y1="1728.5" x2="453.5" y2="1668.5"/><polygon points="423.5,1668.5 453.5,1698.5 423.5,1728.5 393.5,1698.5"/></g>
<g stroke="#00ff00" stroke-width="8" fill="none"><rect x="403.5" y="1735.2" width="41.0" height="41.0"/><line x1="403.5" y1="1735.2" x2="444.5" y2="1776.2" stroke-width="6"/><line x1="403.5" y1="1776.2" x2="444.5" y2="1735.2" stroke-width="6"/></g>
<polygon points="423.0,1796.5 446.8,1813.8 437.7,1841.7 408.3,1841.7 399.2,1813.8" fill="none" stroke="#ff0000" stroke-width="6.5" stroke-linejoin="miter"/>
<rect x="366.3" y="1550.8" width="399" height="300.5" fill="none" stroke="#333" stroke-width="2.2"/>
<text x="501" y="1596.5" font-size="47" textLength="119" lengthAdjust="spacingAndGlyphs">0.668</text>
<text x="501" y="1656.4" font-size="47" textLength="88" lengthAdjust="spacingAndGlyphs">5.21</text>
<text x="475" y="1713" font-size="47" textLength="119" lengthAdjust="spacingAndGlyphs">10.55</text>
<text x="473.5" y="1768" font-size="47" textLength="91" lengthAdjust="spacingAndGlyphs">25.7</text>
<text x="473" y="1834.4" font-size="47" textLength="286" lengthAdjust="spacingAndGlyphs">47.6 mW/<tspan font-family="'Liberation Serif',serif">μ</tspan>m<tspan font-size="32" dy="-19">2</tspan></text>
<text x="352" y="1897.5" font-size="55.5" textLength="507" lengthAdjust="spacingAndGlyphs">Illumination Intensity</text>
</svg>
</body></html>
